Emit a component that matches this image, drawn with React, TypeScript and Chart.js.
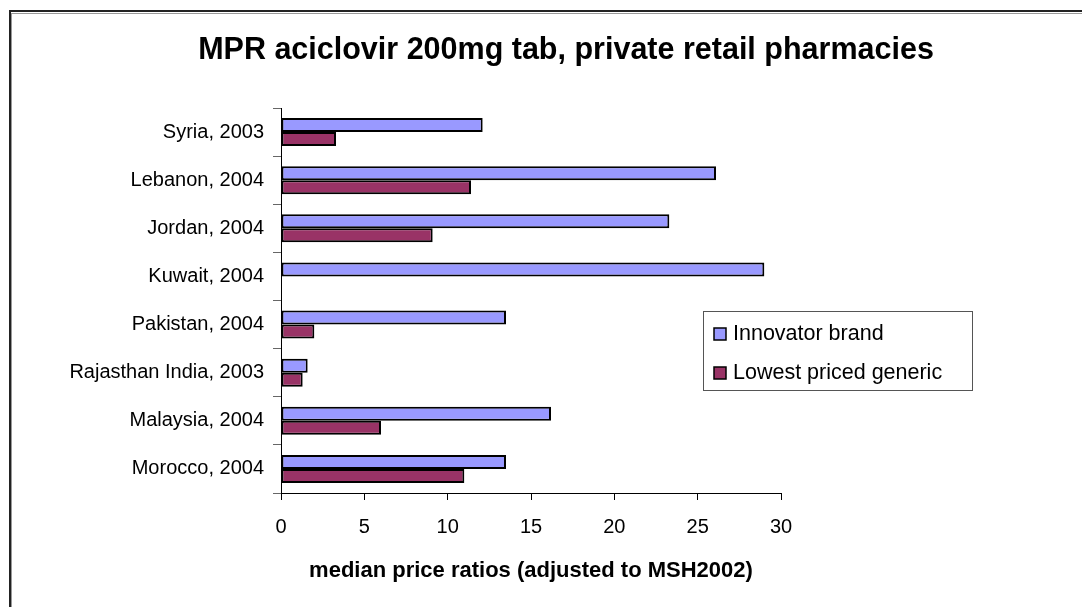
import React, { useEffect, useRef } from "react";
import { Chart, registerables } from "chart.js";

Chart.register(...registerables);

const TITLE = "MPR aciclovir 200mg tab, private retail pharmacies";
const X_TITLE = "median price ratios (adjusted to MSH2002)";
const categories = [
  "Syria, 2003",
  "Lebanon, 2004",
  "Jordan, 2004",
  "Kuwait, 2004",
  "Pakistan, 2004",
  "Rajasthan India, 2003",
  "Malaysia, 2004",
  "Morocco, 2004",
];
const seriesNames = ["Innovator brand", "Lowest priced generic"];
const innovator = [12.1, 26.1, 23.3, 29.0, 13.5, 1.6, 16.2, 13.5];
const generic: (number | null)[] = [3.3, 11.4, 9.1, null, 2.0, 1.3, 6.0, 11.0];
const xTicks = [0, 5, 10, 15, 20, 25, 30];

const FONT = '"Liberation Sans", Arial, sans-serif';
const W = 1082;
const H = 607;

const decorPlugin = {
  id: "decor",
  afterDraw(chart: any) {
    const ctx = chart.ctx as CanvasRenderingContext2D;
    ctx.save();
    // outer frame (cut off at right and bottom)
    ctx.fillStyle = "#999999";
    ctx.fillRect(11, 13, W, 1);
    ctx.fillRect(11, 13, 1, H);
    ctx.fillStyle = "#222222";
    ctx.fillRect(9, 10, W, 2);
    ctx.fillRect(9, 10, 2, H);

    // title
    ctx.fillStyle = "#000";
    ctx.font = `bold 30.5px ${FONT}`;
    ctx.textAlign = "center";
    ctx.textBaseline = "middle";
    ctx.fillText(TITLE, 566, 51);

    // legend box
    const lx = 703, ly = 311, lw = 269, lh = 79;
    ctx.fillStyle = "#fff";
    ctx.fillRect(lx, ly, lw, lh);
    ctx.strokeStyle = "#555";
    ctx.lineWidth = 1;
    ctx.strokeRect(lx + 0.5, ly + 0.5, lw, lh);
    const ys = [334, 373];
    chart.data.datasets.forEach((ds: any, i: number) => {
      const y = ys[i];
      ctx.fillStyle = ds.backgroundColor;
      ctx.fillRect(714, y - 6, 12, 12);
      ctx.strokeStyle = "#000";
      ctx.lineWidth = 1.5;
      ctx.strokeRect(714, y - 6, 12, 12);
      ctx.fillStyle = "#000";
      ctx.font = `21.5px ${FONT}`;
      ctx.textAlign = "left";
      ctx.textBaseline = "middle";
      ctx.fillText(ds.label, 733, y);
    });
    ctx.restore();
  },
};

export default function App() {
  const ref = useRef<HTMLCanvasElement | null>(null);
  useEffect(() => {
    if (!ref.current) return;
    const chart = new Chart(ref.current, {
      type: "bar",
      data: {
        labels: categories,
        datasets: [
          {
            label: seriesNames[0],
            data: innovator,
            backgroundColor: "#9999FF",
            borderColor: "#000000",
            borderWidth: 2,
            borderSkipped: false,
          },
          {
            label: seriesNames[1],
            data: generic,
            backgroundColor: "#993366",
            borderColor: "#000000",
            borderWidth: 2,
            borderSkipped: false,
          },
        ],
      },
      options: {
        indexAxis: "y",
        animation: false,
        responsive: false,
        layout: { padding: { left: 0, right: W - 781, top: 108, bottom: 0 } },
        datasets: { bar: { categoryPercentage: 0.58, barPercentage: 1 } },
        plugins: {
          legend: { display: false },
          title: { display: false },
          tooltip: { enabled: false },
        },
        scales: {
          x: {
            type: "linear",
            min: 0,
            max: 30,
            afterFit(scale: any) {
              scale.height = H - 493;
            },
            afterBuildTicks(scale: any) {
              scale.ticks = xTicks.map((v) => ({ value: v }));
            },
            grid: {
              drawOnChartArea: false,
              drawTicks: true,
              tickLength: 7,
              color: "#000",
            },
            border: { color: "#000", width: 1 },
            ticks: {
              color: "#000",
              font: { family: FONT, size: 20 },
              padding: 15,
            },
            title: {
              display: true,
              text: X_TITLE,
              color: "#000",
              font: { family: FONT, size: 22, weight: "bold" },
              padding: { top: 0, bottom: 23 },
            },
          },
          y: {
            type: "category",
            afterFit(scale: any) {
              scale.width = 281;
            },
            grid: {
              drawOnChartArea: false,
              drawTicks: true,
              tickLength: 8,
              color: "#666",
              offset: true,
            },
            border: { color: "#000", width: 1 },
            ticks: {
              color: "#000",
              font: { family: FONT, size: 20 },
              padding: 9,
            },
          },
        },
      },
      plugins: [decorPlugin],
    });
    return () => chart.destroy();
  }, []);
  return (
    <div style={{ position: "fixed", left: 0, top: 0, width: W, height: H, background: "#fff" }}>
      <canvas ref={ref} width={W} height={H} style={{ width: W, height: H, display: "block" }} />
    </div>
  );
}
